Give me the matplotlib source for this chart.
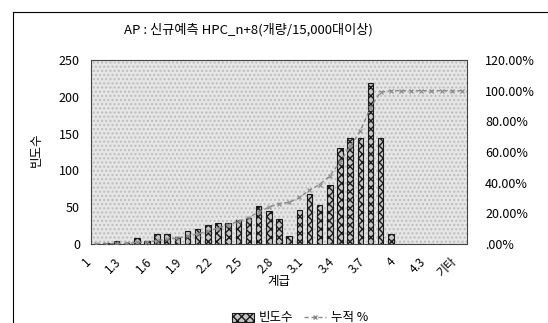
import matplotlib
matplotlib.use("Agg")
import matplotlib.pyplot as plt
import matplotlib.transforms as mtransforms
from matplotlib.lines import Line2D
from matplotlib.patches import Patch
from matplotlib.ticker import FuncFormatter

plt.rcParams['font.family'] = ['Noto Sans CJK KR', 'DejaVu Sans']

# classes (계급) and frequency counts
classes = ['1', '1.1', '1.2', '1.3', '1.4', '1.5', '1.6', '1.7', '1.8', '1.9',
           '2', '2.1', '2.2', '2.3', '2.4', '2.5', '2.6', '2.7', '2.8', '2.9',
           '3', '3.1', '3.2', '3.3', '3.4', '3.5', '3.6', '3.7', '3.8', '3.9',
           '4', '4.1', '4.2', '4.3', '4.4', '4.5', '기타']
freq = [0, 1, 4, 1, 8, 4, 14, 13, 10, 18,
        21, 26, 29, 29, 32, 36, 52, 45, 34, 11,
        46, 68, 53, 80, 131, 144, 144, 219, 144, 14,
        0, 0, 0, 0, 0, 0, 0]
# cumulative % (누적 %)
cum_pct = [0.0, 0.07, 0.35, 0.42, 0.98, 1.26, 2.24, 3.14, 3.84, 5.10,
           6.57, 8.39, 10.41, 12.44, 14.68, 17.19, 20.82, 23.97, 26.35, 27.11,
           30.33, 35.08, 38.78, 44.37, 53.53, 63.59, 73.66, 88.96, 99.02, 100.0,
           100.0, 100.0, 100.0, 100.0, 100.0, 100.0, 100.0]

W, H = 548, 323
fig = plt.figure(figsize=(W / 100, H / 100), dpi=100)
ax = fig.add_axes([91 / W, 1 - 244 / H, (467 - 91) / W, (244 - 60) / H])

# patterned plot area
ax.patch.set_facecolor('#e6e6e6')
ax.patch.set_hatch('....')
ax.patch.set_edgecolor('#bdbdbd')

x = list(range(len(classes)))
ax.bar(x, freq, width=0.55, facecolor='#c4c4c4', edgecolor='#1a1a1a',
       hatch='xxxx', linewidth=0.8, zorder=2)
ax.set_xlim(-0.5, len(classes) - 0.5)
ax.set_ylim(0, 250)
ax.set_yticks(range(0, 251, 50))
ax.set_xticks(x[::3])
ax.set_xticklabels(classes[::3], rotation=45, ha='right', rotation_mode='anchor')
ax.tick_params(axis='x', length=0, labelsize=8.5, pad=8)
ax.tick_params(axis='y', length=0, labelsize=9, pad=8)
shift = mtransforms.ScaledTranslation(-12 / 100, 0, fig.dpi_scale_trans)
for lbl in ax.get_xticklabels():
    lbl.set_transform(lbl.get_transform() + shift)
for s in ax.spines.values():
    s.set_linestyle((0, (2, 1)))
    s.set_color('#444444')
    s.set_linewidth(0.8)

ax2 = ax.twinx()
ax2.plot(x, [v / 100 for v in cum_pct], color='#8a8a8a', linestyle=(0, (3, 2)),
         linewidth=1.0, marker='x', markersize=3, markeredgewidth=0.8, zorder=3)
ax2.set_ylim(0, 1.2)
ax2.set_yticks([0, 0.2, 0.4, 0.6, 0.8, 1.0, 1.2])
ax2.yaxis.set_major_formatter(FuncFormatter(
    lambda v, p: '.00%' if v == 0 else f'{v * 100:.2f}%'))
ax2.tick_params(axis='y', length=0, labelsize=9, pad=13)
for s in ax2.spines.values():
    s.set_visible(False)

fig.text(248 / W, 1 - 30 / H, 'AP : 신규예측 HPC_n+8(개량/15,000대이상)',
         ha='center', va='center', fontsize=9.5)
fig.text(36 / W, 1 - 150 / H, '빈도수', rotation=90, ha='center', va='center', fontsize=9)
fig.text(279 / W, 1 - 281 / H, '계급', ha='center', va='center', fontsize=9)

handles = [Patch(facecolor='#c4c4c4', edgecolor='#1a1a1a', hatch='xxxx', linewidth=0.8),
           Line2D([], [], color='#8a8a8a', linestyle=(0, (3, 2)), marker='x',
                  markersize=3, linewidth=1.0)]
fig.legend(handles, ['빈도수', '누적 %'], loc='center', bbox_to_anchor=(300 / W, 1 - 318 / H),
           ncol=2, frameon=False, fontsize=9, handlelength=1.8, columnspacing=0.8,
           handletextpad=0.4)

# outer chart frame (left and top edges)
fig.add_artist(Line2D([13 / W, 13 / W], [0, 1 - 12 / H], color='black', linewidth=0.8))
fig.add_artist(Line2D([13 / W, 1], [1 - 12 / H, 1 - 12 / H], color='black', linewidth=0.8))

fig.savefig('out.png', dpi=100)
